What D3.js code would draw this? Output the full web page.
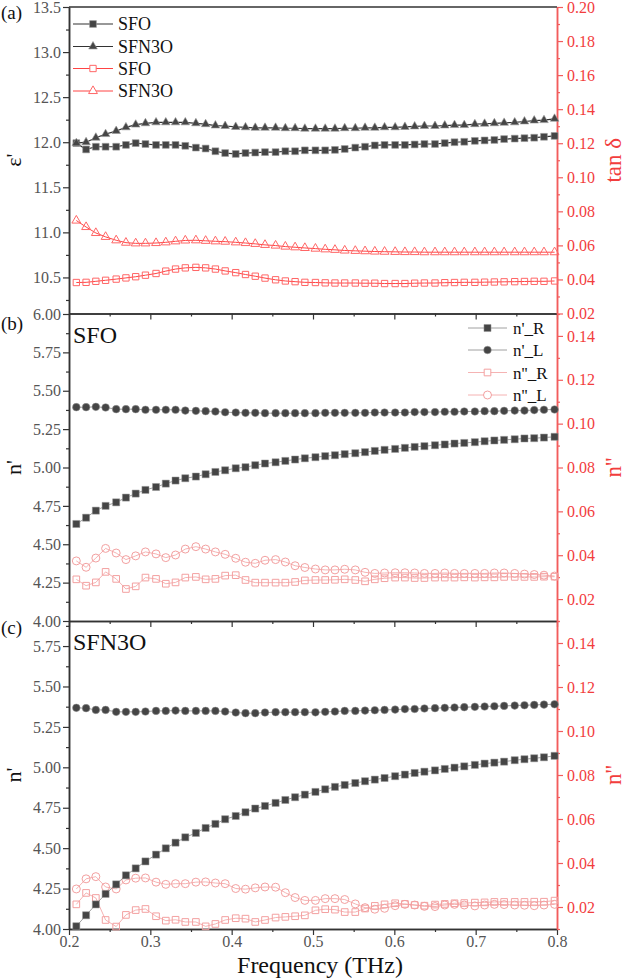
<!DOCTYPE html>
<html>
<head>
<meta charset="utf-8">
<script src="https://cdn.jsdelivr.net/npm/d3@7"></script>
<style>
	body { margin: 0; background: #fff; }
	svg { display: block; font-family: "Liberation Serif", "Times New Roman", serif; }
</style>
</head>
<body>
<script>
// frequency grid (THz)
var freq = [0.209, 0.221, 0.233, 0.245, 0.258, 0.270, 0.282, 0.294, 0.307, 0.319,
	0.331, 0.343, 0.356, 0.368, 0.380, 0.392, 0.405, 0.417, 0.429, 0.441,
	0.454, 0.466, 0.478, 0.490, 0.503, 0.515, 0.527, 0.539, 0.552, 0.564,
	0.576, 0.588, 0.601, 0.613, 0.625, 0.637, 0.650, 0.662, 0.674, 0.686,
	0.699, 0.711, 0.723, 0.735, 0.748, 0.760, 0.772, 0.784, 0.797];

// (a) permittivity and loss tangent
var epsSFO = [11.99, 11.92, 11.95, 11.95, 11.95, 11.97, 11.99, 11.98, 11.97, 11.97,
	11.97, 11.96, 11.94, 11.93, 11.90, 11.88, 11.87, 11.88, 11.885, 11.89,
	11.89, 11.90, 11.90, 11.91, 11.91, 11.91, 11.915, 11.925, 11.94, 11.95,
	11.965, 11.97, 11.97, 11.97, 11.975, 11.98, 11.98, 11.99, 12.00, 12.005,
	12.015, 12.02, 12.025, 12.035, 12.04, 12.045, 12.05, 12.06, 12.07];
var epsSFN3O = [11.99, 12.00, 12.05, 12.09, 12.125, 12.165, 12.195, 12.21, 12.22, 12.22,
	12.22, 12.22, 12.21, 12.20, 12.185, 12.18, 12.17, 12.165, 12.16, 12.16,
	12.16, 12.155, 12.155, 12.15, 12.15, 12.15, 12.15, 12.155, 12.155, 12.16,
	12.16, 12.165, 12.165, 12.17, 12.175, 12.18, 12.18, 12.185, 12.19, 12.19,
	12.20, 12.205, 12.21, 12.215, 12.22, 12.23, 12.24, 12.245, 12.26];
var tanSFO = [0.0382, 0.0383, 0.0389, 0.0395, 0.0402, 0.0409, 0.0416, 0.0425, 0.0435, 0.0449,
	0.0461, 0.0468, 0.0471, 0.0468, 0.0461, 0.0450, 0.0440, 0.0429, 0.0419, 0.0408,
	0.0398, 0.0391, 0.0387, 0.0383, 0.0382, 0.0380, 0.0379, 0.0379, 0.0379, 0.0378,
	0.0378, 0.0376, 0.0376, 0.0376, 0.0378, 0.0379, 0.0379, 0.0381, 0.0382, 0.0383,
	0.0383, 0.0384, 0.0385, 0.0386, 0.0387, 0.0388, 0.0389, 0.0389, 0.0391];
var tanSFN3O = [0.0746, 0.0708, 0.0673, 0.0650, 0.0630, 0.0616, 0.0612, 0.0612, 0.0614, 0.0618,
	0.0624, 0.0629, 0.0630, 0.0627, 0.0624, 0.0622, 0.0618, 0.0614, 0.0609, 0.0603,
	0.0599, 0.0593, 0.0589, 0.0585, 0.0581, 0.0577, 0.0574, 0.0570, 0.0568, 0.0566,
	0.0564, 0.0563, 0.0562, 0.0561, 0.0561, 0.0560, 0.0560, 0.0560, 0.0560, 0.0560,
	0.0560, 0.0560, 0.0560, 0.0560, 0.0560, 0.0560, 0.0560, 0.0560, 0.0560];

// (b) SFO refractive index, R / L
var nR_SFO = [4.632, 4.673, 4.719, 4.750, 4.773, 4.804, 4.830, 4.854, 4.873, 4.895,
	4.915, 4.930, 4.941, 4.956, 4.971, 4.982, 4.995, 5.002, 5.015, 5.026,
	5.034, 5.043, 5.052, 5.060, 5.067, 5.074, 5.080, 5.087, 5.093, 5.100,
	5.108, 5.115, 5.121, 5.128, 5.134, 5.139, 5.145, 5.150, 5.156, 5.160,
	5.165, 5.171, 5.176, 5.180, 5.184, 5.189, 5.191, 5.195, 5.200];
var nL_SFO = [5.393, 5.393, 5.395, 5.391, 5.380, 5.380, 5.380, 5.376, 5.376, 5.376,
	5.376, 5.371, 5.369, 5.367, 5.365, 5.360, 5.358, 5.356, 5.356, 5.354,
	5.354, 5.354, 5.354, 5.354, 5.354, 5.356, 5.356, 5.356, 5.356, 5.356,
	5.358, 5.358, 5.358, 5.358, 5.361, 5.361, 5.361, 5.363, 5.363, 5.365,
	5.365, 5.367, 5.367, 5.369, 5.371, 5.371, 5.374, 5.376, 5.378];
var kR_SFO = [0.0290, 0.0261, 0.0276, 0.0324, 0.0292, 0.0246, 0.0258, 0.0298, 0.0292, 0.0270,
	0.0276, 0.0298, 0.0301, 0.0290, 0.0292, 0.0307, 0.0309, 0.0287, 0.0275, 0.0275,
	0.0275, 0.0275, 0.0278, 0.0285, 0.0287, 0.0287, 0.0288, 0.0290, 0.0287, 0.0281,
	0.0290, 0.0295, 0.0298, 0.0298, 0.0296, 0.0296, 0.0298, 0.0298, 0.0298, 0.0299,
	0.0298, 0.0299, 0.0299, 0.0301, 0.0301, 0.0301, 0.0301, 0.0302, 0.0302];
var kL_SFO = [0.0374, 0.0345, 0.0387, 0.0431, 0.0410, 0.0380, 0.0397, 0.0415, 0.0406, 0.0389,
	0.0401, 0.0428, 0.0439, 0.0428, 0.0415, 0.0404, 0.0386, 0.0368, 0.0363, 0.0377,
	0.0380, 0.0369, 0.0352, 0.0344, 0.0337, 0.0333, 0.0333, 0.0336, 0.0333, 0.0322,
	0.0317, 0.0319, 0.0320, 0.0320, 0.0319, 0.0317, 0.0317, 0.0319, 0.0317, 0.0317,
	0.0317, 0.0317, 0.0319, 0.0319, 0.0317, 0.0314, 0.0312, 0.0309, 0.0305];

// (c) SFN3O refractive index, R / L
var nR_SFN3O = [4.017, 4.085, 4.152, 4.217, 4.276, 4.332, 4.375, 4.418, 4.460, 4.499,
	4.534, 4.567, 4.594, 4.625, 4.650, 4.679, 4.699, 4.722, 4.745, 4.761,
	4.780, 4.798, 4.815, 4.831, 4.848, 4.864, 4.879, 4.891, 4.903, 4.914,
	4.924, 4.934, 4.945, 4.955, 4.965, 4.973, 4.981, 4.990, 4.998, 5.006,
	5.015, 5.023, 5.029, 5.035, 5.044, 5.050, 5.056, 5.062, 5.071];
var nL_SFN3O = [5.368, 5.366, 5.355, 5.355, 5.343, 5.343, 5.343, 5.345, 5.349, 5.349,
	5.351, 5.349, 5.349, 5.349, 5.349, 5.345, 5.339, 5.335, 5.335, 5.339,
	5.341, 5.341, 5.341, 5.341, 5.340, 5.343, 5.345, 5.349, 5.349, 5.351,
	5.353, 5.355, 5.357, 5.360, 5.361, 5.364, 5.366, 5.368, 5.370, 5.372,
	5.374, 5.376, 5.378, 5.380, 5.382, 5.384, 5.386, 5.388, 5.390];
var kR_SFN3O = [0.0212, 0.0264, 0.0241, 0.0141, 0.0111, 0.0164, 0.0186, 0.0191, 0.0158, 0.0138,
	0.0142, 0.0132, 0.0132, 0.0112, 0.0123, 0.0141, 0.0149, 0.0147, 0.0132, 0.0141,
	0.0152, 0.0155, 0.0158, 0.0162, 0.0185, 0.0190, 0.0188, 0.0177, 0.0177, 0.0193,
	0.0205, 0.0212, 0.0217, 0.0214, 0.0209, 0.0206, 0.0211, 0.0214, 0.0217, 0.0218,
	0.0220, 0.0221, 0.0223, 0.0223, 0.0223, 0.0223, 0.0224, 0.0224, 0.0229];
var kL_SFN3O = [0.0282, 0.0328, 0.0338, 0.0291, 0.0282, 0.0323, 0.0331, 0.0332, 0.0313, 0.0303,
	0.0306, 0.0306, 0.0313, 0.0314, 0.0309, 0.0306, 0.0284, 0.0281, 0.0287, 0.0291,
	0.0290, 0.0265, 0.0243, 0.0230, 0.0230, 0.0238, 0.0238, 0.0234, 0.0214, 0.0197,
	0.0190, 0.0194, 0.0206, 0.0212, 0.0209, 0.0203, 0.0202, 0.0209, 0.0212, 0.0209,
	0.0205, 0.0209, 0.0212, 0.0211, 0.0209, 0.0208, 0.0206, 0.0209, 0.0212];

// tick values
var xTicks = [0.2, 0.3, 0.4, 0.5, 0.6, 0.7, 0.8];
var xMinor = [0.25, 0.35, 0.45, 0.55, 0.65, 0.75];
var aLeftTicks = [10.5, 11.0, 11.5, 12.0, 12.5, 13.0, 13.5];
var aLeftMinor = [10.25, 10.75, 11.25, 11.75, 12.25, 12.75, 13.25];
var aRightTicks = [0.02, 0.04, 0.06, 0.08, 0.10, 0.12, 0.14, 0.16, 0.18, 0.20];
var aRightMinor = [0.03, 0.05, 0.07, 0.09, 0.11, 0.13, 0.15, 0.17, 0.19];
var nTicks = [4.00, 4.25, 4.50, 4.75, 5.00, 5.25, 5.50, 5.75, 6.00];
var nMinor = [4.125, 4.375, 4.625, 4.875, 5.125, 5.375, 5.625, 5.875];
var kTicks = [0.02, 0.04, 0.06, 0.08, 0.10, 0.12, 0.14];
var kMinor = [0.01, 0.03, 0.05, 0.07, 0.09, 0.11, 0.13, 0.15];

var W = 627, H = 979;
var plotL = 69, plotR = 557;
var dark = '#333', tickGray = '#555', markBlack = '#454545';
var axisRed = '#f25c5c', labelRed = '#f23d3d';
var redA = '#f66', redLineA = '#f44', pink = '#f3a0a0';

var svg = d3.select('body').append('svg').attr('width', W).attr('height', H);

var x = d3.scaleLinear().domain([0.2, 0.8]).range([plotL, plotR]);

var panels = [
	{ top: 7, bottom: 313.5, left: [10.1, 13.5], right: [0.02, 0.20],
		lT: aLeftTicks, lM: aLeftMinor, lF: '.1f', rT: aRightTicks, rM: aRightMinor,
		tag: '(a)', tagY: 19, lTitle: "ε'", rTitle: 'tan δ' },
	{ top: 314, bottom: 621, left: [4, 6], right: [0.01, 0.15],
		lT: nTicks, lM: nMinor, lF: '.2f', rT: kTicks, rM: kMinor,
		tag: '(b)', tagY: 330, lTitle: "n'", rTitle: "n''" },
	{ top: 621, bottom: 929, left: [4, 5.905], right: [0.01, 0.15],
		lT: nTicks.filter(function (d) { return d < 5.9; }), lM: nMinor.filter(function (d) { return d < 5.9; }),
		lF: '.2f', rT: kTicks, rM: kMinor,
		tag: '(c)', tagY: 634, lTitle: "n'", rTitle: "n''" }
];

panels.forEach(function (p, pi) {
	p.yL = d3.scaleLinear().domain(p.left).range([p.bottom, p.top]);
	p.yR = d3.scaleLinear().domain(p.right).range([p.bottom, p.top]);
	var g = svg.append('g');

	// bottom axis
	g.append('g').attr('class', 'bax').attr('transform', 'translate(0,' + p.bottom + ')')
		.call(d3.axisBottom(x).tickValues(xTicks).tickSize(6).tickSizeOuter(0)
			.tickFormat(pi === 2 ? d3.format('.1f') : ''));
	g.append('g').attr('transform', 'translate(0,' + p.bottom + ')')
		.call(d3.axisBottom(x).tickValues(xMinor).tickSize(3).tickSizeOuter(0).tickFormat(''));

	// left axis
	g.append('g').attr('class', 'lax').attr('transform', 'translate(' + plotL + ',0)')
		.call(d3.axisLeft(p.yL).tickValues(p.lT).tickSize(6).tickSizeOuter(0).tickFormat(d3.format(p.lF)));
	g.append('g').attr('class', 'lax').attr('transform', 'translate(' + plotL + ',0)')
		.call(d3.axisLeft(p.yL).tickValues(p.lM).tickSize(3).tickSizeOuter(0).tickFormat(''));

	// right axis
	g.append('g').attr('class', 'rax').attr('transform', 'translate(' + plotR + ',0)')
		.call(d3.axisRight(p.yR).tickValues(p.rT).tickSize(6).tickSizeOuter(0).tickFormat(d3.format('.2f')));
	g.append('g').attr('class', 'rax').attr('transform', 'translate(' + plotR + ',0)')
		.call(d3.axisRight(p.yR).tickValues(p.rM).tickSize(3).tickSizeOuter(0).tickFormat(''));

	if (pi === 0) {
		g.append('line').attr('x1', plotL).attr('x2', plotR).attr('y1', p.top).attr('y2', p.top)
			.attr('stroke', dark).attr('stroke-width', 1.5);
	}

	// panel tag and titles
	svg.append('text').attr('x', 1).attr('y', p.tagY).attr('font-size', 19).attr('fill', '#111').text(p.tag);
	var cy = (p.top + p.bottom) / 2;
	svg.append('text').attr('transform', 'translate(21,' + cy + ') rotate(-90)')
		.attr('text-anchor', 'middle').attr('font-size', 22).attr('fill', '#111').text(p.lTitle);
	svg.append('text').attr('transform', 'translate(621,' + cy + ') rotate(-90)')
		.attr('text-anchor', 'middle').attr('font-size', 23).attr('fill', labelRed).text(p.rTitle);
});

svg.selectAll('.domain').attr('stroke', dark).attr('stroke-width', 1.5);
svg.selectAll('.tick line').attr('stroke', dark).attr('stroke-width', 1.2);
svg.selectAll('.tick text').attr('fill', tickGray).attr('font-size', 16)
	.attr('font-family', '"Liberation Serif", "Times New Roman", serif');
svg.selectAll('.lax .tick text').attr('x', -8);
svg.selectAll('.bax .tick text').attr('y', 7);
svg.selectAll('.rax .domain').attr('stroke', axisRed);
svg.selectAll('.rax .tick line').attr('stroke', axisRed);
svg.selectAll('.rax .tick text').attr('fill', labelRed).attr('x', 10);

svg.append('text').attr('x', 320).attr('y', 973).attr('text-anchor', 'middle')
	.attr('font-size', 24).attr('fill', '#111').text('Frequency (THz)');

// series drawing helper
function drawSeries(p, values, axis, opt) {
	var y = axis === 'L' ? p.yL : p.yR;
	var pts = freq.map(function (f, i) { return [x(f), y(values[i])]; });
	svg.append('path').datum(pts)
		.attr('d', d3.line())
		.attr('fill', 'none').attr('stroke', opt.line).attr('stroke-width', opt.lw);
	var sym = d3.symbol().type(opt.shape).size(opt.size);
	svg.append('g').selectAll('path').data(pts).enter().append('path')
		.attr('transform', function (d) { return 'translate(' + d[0] + ',' + d[1] + ')'; })
		.attr('d', sym)
		.attr('fill', opt.fill).attr('stroke', opt.stroke).attr('stroke-width', opt.sw);
}

var sqBlack = { shape: d3.symbolSquare, size: 46, fill: markBlack, stroke: '#999', sw: 0.6, line: dark, lw: 1.2 };
var triBlack = { shape: d3.symbolTriangle, size: 32, fill: markBlack, stroke: '#999', sw: 0.6, line: dark, lw: 1.2 };
var sqRedA = { shape: d3.symbolSquare, size: 40, fill: 'none', stroke: redA, sw: 1, line: redLineA, lw: 1 };
var triRedA = { shape: d3.symbolTriangle, size: 34, fill: 'none', stroke: redA, sw: 1, line: redLineA, lw: 1 };

var sqB = { shape: d3.symbolSquare, size: 50, fill: markBlack, stroke: '#999', sw: 0.5, line: '#888', lw: 0.8 };
var ciB = { shape: d3.symbolCircle, size: 46, fill: markBlack, stroke: '#999', sw: 0.5, line: '#888', lw: 0.8 };
var sqP = { shape: d3.symbolSquare, size: 44, fill: 'none', stroke: pink, sw: 1, line: pink, lw: 0.8 };
var ciP = { shape: d3.symbolCircle, size: 50, fill: 'none', stroke: pink, sw: 1, line: pink, lw: 0.8 };

var pa = panels[0], pb = panels[1], pc = panels[2];
drawSeries(pa, tanSFO, 'R', sqRedA);
drawSeries(pa, tanSFN3O, 'R', triRedA);
drawSeries(pa, epsSFO, 'L', sqBlack);
drawSeries(pa, epsSFN3O, 'L', triBlack);

[[pb, nR_SFO, nL_SFO, kR_SFO, kL_SFO], [pc, nR_SFN3O, nL_SFN3O, kR_SFN3O, kL_SFN3O]].forEach(function (s) {
	drawSeries(s[0], s[3], 'R', sqP);
	drawSeries(s[0], s[4], 'R', ciP);
	drawSeries(s[0], s[1], 'L', sqB);
	drawSeries(s[0], s[2], 'L', ciB);
});

// sample labels
svg.append('text').attr('x', 73).attr('y', 343).attr('font-size', 24).attr('fill', '#111').text('SFO');
svg.append('text').attr('x', 73).attr('y', 650).attr('font-size', 24).attr('fill', '#111').text('SFN3O');

// legends
function legend(items, x0, x1, tx, fs) {
	items.forEach(function (it) {
		svg.append('line').attr('x1', x0).attr('x2', x1).attr('y1', it.y).attr('y2', it.y)
			.attr('stroke', it.o.line).attr('stroke-width', it.o.lw);
		svg.append('path').attr('transform', 'translate(' + (x0 + x1) / 2 + ',' + it.y + ')')
			.attr('d', d3.symbol().type(it.o.shape).size(it.o.size))
			.attr('fill', it.o.fill === 'none' ? '#fff' : it.o.fill).attr('stroke', it.o.stroke).attr('stroke-width', it.o.sw);
		svg.append('text').attr('x', tx).attr('y', it.y + 6).attr('font-size', fs).attr('fill', '#111').text(it.t);
	});
}
legend([
	{ y: 24, o: sqBlack, t: 'SFO' },
	{ y: 46.5, o: triBlack, t: 'SFN3O' },
	{ y: 68.5, o: sqRedA, t: 'SFO' },
	{ y: 91, o: triRedA, t: 'SFN3O' }
], 73, 113, 118, 18);
legend([
	{ y: 328, o: sqB, t: "n'_R" },
	{ y: 350, o: ciB, t: "n'_L" },
	{ y: 372.5, o: sqP, t: "n''_R" },
	{ y: 395, o: ciP, t: "n''_L" }
], 468, 507, 513, 17);
</script>
</body>
</html>
